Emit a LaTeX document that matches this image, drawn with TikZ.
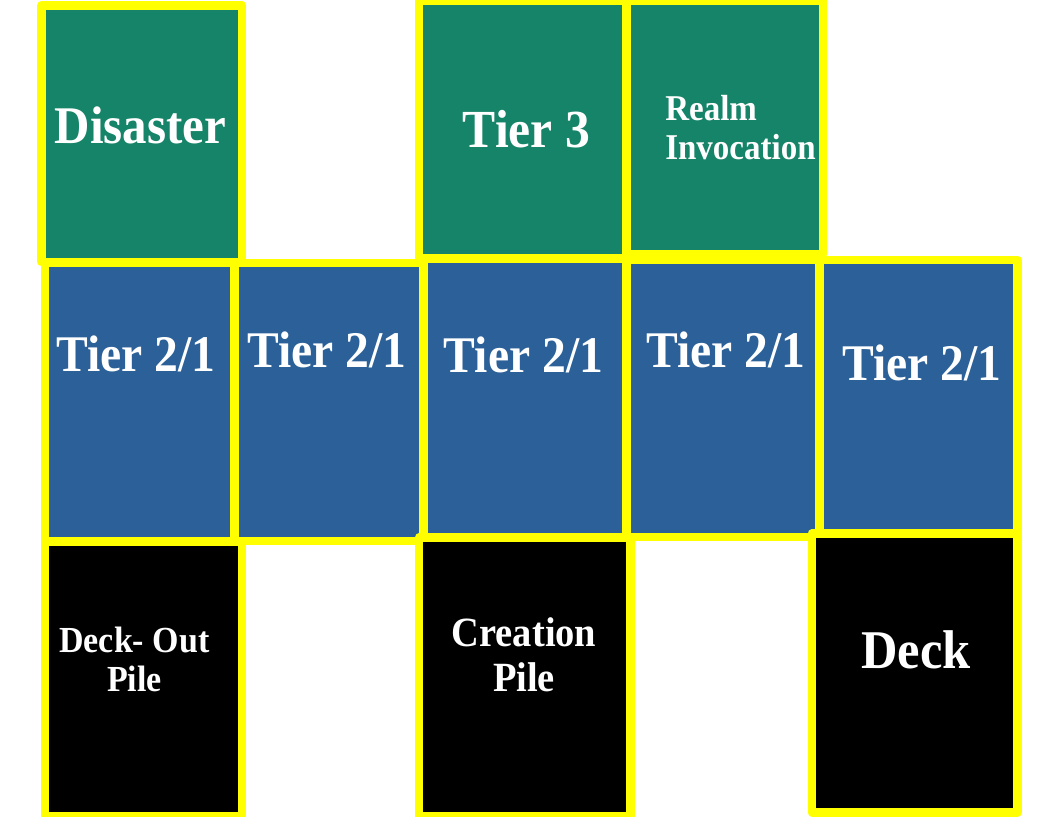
\documentclass[tikz,border=0pt]{standalone}
\usepackage{fontspec}
\usepackage{graphicx}
\setmainfont{Liberation Serif}
\definecolor{cardgreen}{RGB}{22,132,105}
\definecolor{cardblue}{RGB}{43,96,152}
\definecolor{cardyellow}{RGB}{255,255,0}
\tikzset{
  card/.style={draw=cardyellow, line width=8.5pt, line join=round, anchor=north west, inner sep=0pt, outer sep=0pt},
  greencard/.style={card, fill=cardgreen},
  bluecard/.style={card, fill=cardblue},
  blackcard/.style={card, fill=black},
  cardtext/.style={text=white, font=\bfseries, inner sep=0pt, outer sep=0pt, anchor=base},
}
\newcommand{\cardsz}[3]{\fontsize{#1}{#2}\selectfont\scalebox{1}[1.08]{#3}}
\begin{document}
\begin{tikzpicture}[x=1pt,y=-1pt]
\useasboundingbox[fill=white] (0,0) rectangle (1056,816);
% top row
\node[greencard, minimum width=200.5pt, minimum height=256.5pt] (disaster) at (41.5,5.5) {};
\node[greencard, minimum width=207.5pt, minimum height=257.75pt] (tierthree) at (419,0.75) {};
\node[greencard, minimum width=196.5pt, minimum height=253.5pt] (realm) at (626.5,0.75) {};
% middle row
\node[bluecard, minimum width=189pt, minimum height=278.25pt] (blueA) at (45,262.75) {};
\node[bluecard, minimum width=188.5pt, minimum height=278.25pt] (blueB) at (234.5,262.75) {};
\node[bluecard, minimum width=203pt, minimum height=278.25pt] (blueC) at (423.5,258.75) {};
\node[bluecard, minimum width=193pt, minimum height=277.25pt] (blueD) at (626.5,259.75) {};
\node[bluecard, minimum width=197.5pt, minimum height=273.25pt] (blueE) at (819.75,259.75) {};
% bottom row
\node[blackcard, minimum width=197pt, minimum height=274.5pt] (deckout) at (45,541.5) {};
\node[blackcard, minimum width=211.5pt, minimum height=278.5pt] (creation) at (419,537.5) {};
\node[blackcard, minimum width=205.5pt, minimum height=279pt] (deck) at (811.75,533.5) {};
% texts
\node[cardtext] (tDisaster) at (140.5,143) {\cardsz{49}{55}{Disaster}};
\node[cardtext] (tTierThree) at (526.5,147.7) {\cardsz{49.6}{55}{Tier 3}};
\node[cardtext, anchor=base west] (tRealm) at (665.3,159.3) {\fontsize{33}{35.7}\selectfont\scalebox{1}[1.1]{\begin{tabular}[b]{@{}l@{}}Realm\\Invocation\end{tabular}}};
\node[cardtext] (tA) at (136,371) {\cardsz{47.6}{53}{Tier 2/1}};
\node[cardtext] (tB) at (326.7,367.3) {\cardsz{47.6}{53}{Tier 2/1}};
\node[cardtext] (tC) at (523.5,372.3) {\cardsz{47.6}{53}{Tier 2/1}};
\node[cardtext] (tD) at (725.9,367.3) {\cardsz{47.6}{53}{Tier 2/1}};
\node[cardtext] (tE) at (922,380) {\cardsz{47.6}{53}{Tier 2/1}};
\node[cardtext] (tDeckOut) at (134.4,691.7) {\fontsize{34}{36.1}\selectfont\scalebox{1}[1.08]{\begin{tabular}[b]{@{}c@{}}Deck- Out\\Pile\end{tabular}}};
\node[cardtext] (tCreation) at (524,691.5) {\fontsize{38.5}{41.7}\selectfont\scalebox{1}[1.08]{\begin{tabular}[b]{@{}c@{}}Creation\\Pile\end{tabular}}};
\node[cardtext] (tDeck) at (916,668.3) {\cardsz{50.5}{56}{Deck}};
\end{tikzpicture}
\end{document}
